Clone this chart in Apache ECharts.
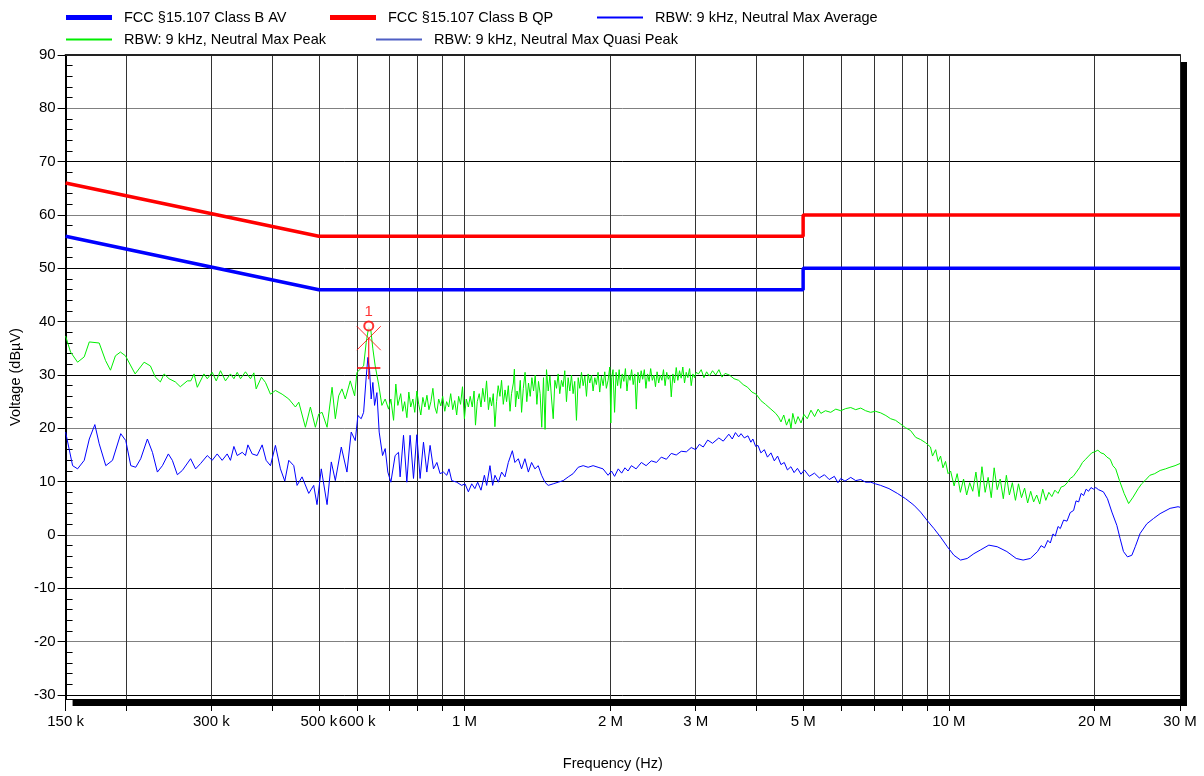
<!DOCTYPE html>
<html><head><meta charset="utf-8">
<script src="https://cdn.jsdelivr.net/npm/echarts@6/dist/echarts.min.js"></script>
<style>html,body{margin:0;padding:0;background:#fff}#c{width:1204px;height:776px}</style>
</head><body><div id="c"></div>
<script>
// ---- data (frequency in kHz, level in dBµV) ----
const limitFreqKHz = [150, 500, 5000, 5000, 30000];
const limitQP = [66, 56, 56, 60, 60];
const limitAV = [56, 46, 46, 50, 50];

const peakTrace = [
[150,37.3],[153.6,34.3],[158.8,32.4],[163.9,33.4],[167.9,36.2],[176,36.0],[181.4,32.7],[185.7,30.9],[190.1,33.6],[194.7,34.3],
[199.4,33.6],[208.8,30.2],[217.9,32.4],[224.5,31.7],[229.9,29.6],[235.4,28.7],[239.6,30.2],[245.3,29.3],[252.8,28.7],[258.8,27.8],
[267.6,28.9],[272,28.9],[276.3,30.2],[280.6,27.7],[289.6,30.2],[294.2,29.3],[301.2,30.5],[307,28.9],[313.3,30.8],[320.8,28.9],
[328.5,30.2],[333.9,29.3],[339.2,30.5],[344.6,29.3],[352.8,30.6],[361.3,29.3],[367.2,30.4],[371.2,27.4],[380.6,29.6],[388,28.6],
[397.3,26.4],[406.8,27.1],[420,26.4],[433.5,25.5],[447.3,24.0],[454.6,24.9],[469.1,20.2],[480.4,24.0],[491.9,20.2],[499.9,22.7],
[507.8,23.0],[520,20.2],[532.5,27.7],[540.8,21.8],[549.5,26.1],[558.2,27.4],[567,25.5],[580.6,28.9],[592.8,26.1],[599.4,30.5],
[608.8,31.1],[618.7,31.7],[626.3,36.1],[633.5,38.9],[640.5,38.3],[646.5,34.9],[653.7,31.7],[664.3,28.3],[674.8,24.3],[685.5,25.5],
[696.6,23.6],[704.2,25.5],[713.4,21.5],[721.1,28.3],[728,24.3],
[738,26.5],[745,23.2],[752,25.0],[760,22.0],[767,26.8],[774,24.0],[782,25.5],[789,23.0],[797,27.0],[804,24.5],[812,22.5],[820,25.8],
[828,24.0],[836,26.2],[844,23.5],[852,25.0],[860,27.5],[868,24.0],[876,22.8],[884,25.5],[893,24.2],[901,26.0],[910,23.2],[918,25.0],
[927,24.0],[936,26.5],[945,23.5],[954,25.2],[963,22.5],[972,26.0],[981,24.5],[990,27.8],[999,21.8],[1008,25.5],[1018,24.0],
[1027,26.0],[1037,24.0],[1046,27.0],[1053,20.6],[1062,25.0],[1072,26.5],[1081,24.0],[1090,27.5],[1100,25.0],[1110,28.9],[1120,23.5],
[1128,25.8],[1137,24.2],[1146,26.5],[1155,20.3],[1164,25.0],[1173,28.0],[1183,26.0],[1192,29.0],[1202,24.5],[1212,27.2],[1221,25.0],
[1231,28.0],[1241,23.2],[1250,26.5],[1261,28.5],[1267,31.1],[1274,24.0],[1283,27.0],[1293,25.5],[1303,29.0],[1311,23.0],
[1322,27.5],[1333,30.5],[1344,25.0],[1355,28.5],[1366,26.0],[1377,29.5],[1388,27.0],[1399,30.0],[1410,24.5],[1421,28.8],[1432,26.5],
[1443,20.2],[1455,29.5],[1466,19.8],[1476,31.0],[1488,27.0],[1500,29.8],[1512,25.5],[1524,21.8],[1536,29.0],[1548,27.5],[1560,30.2],
[1572,26.5],[1585,29.0],[1597,27.8],[1610,30.8],[1623,25.0],[1636,29.5],[1649,27.0],[1662,30.0],[1675,26.5],[1688,28.8],[1702,21.5],
[1716,29.5],[1729,27.5],[1743,30.5],[1757,28.0],[1771,29.8],[1785,26.0],[1799,30.2],[1813,28.5],[1828,30.0],[1842,27.0],[1857,29.5],
[1871,28.2],[1886,30.5],[1901,26.8],[1916,29.8],[1932,28.0],[1947,30.6],[1962,27.5],[1978,29.0],[1994,31.5],[2004,21.0],[2012,29.5],
[2025,31.0],[2040,23.0],[2055,30.5],[2070,28.0],[2085,31.0],[2100,27.5],[2116,30.2],[2132,28.8],[2148,31.2],[2164,27.0],[2180,30.0],
[2196,29.0],[2212,31.0],[2229,28.2],[2246,30.2],[2262,23.6],[2280,30.5],[2297,28.5],[2315,30.8],[2332,29.2],[2350,31.0],[2368,27.5],
[2386,30.2],[2404,28.8],[2422,31.2],[2441,29.0],[2460,30.0],[2478,27.8],[2497,30.6],[2516,28.5],[2535,30.0],[2555,29.0],[2574,31.0],
[2594,28.0],[2614,30.5],[2634,29.2],[2654,30.0],[2671,25.9],[2692,30.2],[2713,28.5],[2735,31.4],[2756,29.0],[2778,30.8],[2800,29.4],
[2822,31.5],[2845,28.5],[2868,30.5],[2890,29.5],[2914,31.2],[2937,28.0],[2960,30.2],[2984,29.5],[3007,30.5],
[3040,30.2],[3080,31.0],[3120,29.5],[3160,30.6],[3200,29.8],[3250,30.8],[3300,30.0],[3350,31.0],[3400,29.6],[3450,30.3],[3520,30.0],
[3600,29.3],[3680,29.0],[3760,28.2],[3840,27.7],[3920,26.8],[4000,26.4],[4090,25.2],[4180,24.5],[4290,23.6],[4390,22.8],[4450,22.1],
[4500,21.2],[4560,22.5],[4620,20.6],[4680,21.8],[4720,20.0],[4760,22.8],[4820,20.8],[4880,22.2],[4950,21.0],[5020,22.6],[5100,21.8],
[5190,23.4],[5280,22.2],[5370,23.6],[5440,22.8],[5560,23.3],[5700,23.0],[5840,23.6],[5980,23.3],[6120,23.7],[6270,23.9],[6420,23.5],
[6575,23.8],[6730,23.3],[6890,23.0],[7050,23.2],[7230,22.9],[7410,22.4],[7580,21.8],[7760,21.5],[7950,20.8],[8140,20.1],[8330,19.6],
[8540,18.3],[8740,17.9],[8950,17.3],[9160,16.5],[9250,14.8],[9390,16.0],[9500,13.8],[9610,14.8],[9720,12.6],[9840,13.8],[9960,11.5],
[10080,12.0],[10250,9.2],[10400,11.5],[10560,8.0],[10720,10.5],[10880,7.5],[11040,9.8],[11200,8.2],[11370,11.8],[11540,7.2],[11700,12.8],
[11880,8.0],[12050,10.8],[12230,7.0],[12400,12.6],[12580,8.5],[12760,10.5],[12950,6.8],[13140,11.2],[13330,7.5],[13520,9.8],[13720,6.5],
[13920,9.6],[14120,7.0],[14330,8.8],[14540,6.0],[14750,8.2],[14960,6.2],[15180,7.5],[15400,5.8],[15620,8.6],[15850,6.5],[16080,8.0],
[16310,7.2],[16550,8.4],[16800,7.8],[17050,9.0],[17300,9.2],[17550,9.8],[17800,10.6],[18060,11.0],[18330,11.8],[18600,12.6],[18870,13.6],
[19150,14.2],[19430,14.8],[19720,15.4],[20000,15.6],[20300,15.9],[20600,15.4],[20900,15.2],[21200,14.6],[21530,14.2],[21800,13.0],
[22100,12.4],[22500,10.2],[23000,7.8],[23500,5.9],[24000,7.1],[24600,8.7],[25000,9.6],[25400,10.2],[26000,11.2],[26600,11.5],
[27300,12.1],[28000,12.4],[28600,12.7],[29300,13.0],[30000,13.4]
];

const avgTrace = [
[150,19.3],[155.1,13.0],[158.8,12.4],[163.9,14.0],[167.9,18.0],[172.4,20.7],[176,17.1],[181.6,13.0],[187.5,14.0],[195,19.0],
[199.7,17.7],[204.5,13.0],[209.4,12.7],[214.4,14.3],[221.3,18.0],[226.7,15.5],[232.1,11.8],[237.7,13.0],[244.5,15.2],[249.2,14.0],
[255.2,11.3],[261.3,12.1],[271.8,14.3],[278.3,12.4],[285,13.4],[294.2,14.9],[301.2,14.0],[308.4,15.2],[315.8,14.0],[323.4,15.2],
[328.5,14.0],[333.9,16.6],[339.2,14.9],[347.4,15.5],[352.8,14.9],[356.9,16.9],[364.2,15.2],[373,14.9],[381.9,16.9],[389.2,14.0],
[397.3,13.0],[406.8,16.8],[416.6,12.4],[425.3,10.1],[433.5,14.0],[443.9,13.0],[450.9,9.3],[461.7,10.9],[476.6,7.8],[488,9.3],
[495.7,5.7],[505.9,12.4],[520,5.7],[530.6,13.7],[540.8,10.2],[556.4,16.5],[571.6,11.8],[583.3,19.3],[594.6,17.7],[602.1,22.4],
[611.6,21.8],[618.7,23.0],[626.3,29.6],[631.4,33.3],[636.5,30.8],[641.3,25.5],[646.5,28.6],[651.8,24.3],[659,26.7],[666.2,19.3],
[677,14.9],[685.5,16.2],[694.2,11.8],[704.2,9.9],[710.8,9.6],[718.7,14.9],[730.4,15.5],[736,10.9],[747.9,18.7],[759.8,9.9],
[771.7,18.7],[784.3,10.6],[796.8,18.8],[809.3,10.6],[822.4,17.4],[835.6,11.8],[848.6,16.8],[862.4,12.4],[876.5,13.6],[889.9,11.5],
[904.3,11.8],[918.6,11.2],[928.5,12.4],[940.6,10.2],[963.2,9.9],[986.3,9.3],[1001.9,9.6],[1018,8.1],[1034.3,9.6],[1050,8.7],
[1064,9.9],[1081,8.4],[1098.6,11.2],[1110.6,9.3],[1128.2,13.0],[1142.6,9.3],[1155.2,11.2],[1174,9.9],[1192.5,11.8],[1211.5,10.9],
[1231,13.6],[1254.8,15.8],[1270,13.6],[1291,14.3],[1311,12.4],[1332,14.3],[1354,11.8],[1375,13.6],[1397,12.4],[1419,13.0],
[1442,11.2],[1465,9.9],[1488,9.3],[1524,9.6],[1560,9.9],[1598,10.2],[1637,10.9],[1675,11.5],[1716,12.7],[1757,13.0],
[1799,12.7],[1842,13.0],[1886,12.7],[1931,12.4],[1978,11.2],
[2010,12.0],[2040,11.0],[2076,12.4],[2110,11.6],[2143,12.6],[2175,12.0],[2210,13.0],[2260,12.4],[2317,13.6],[2370,13.0],
[2429,13.9],[2490,13.6],[2547,14.6],[2610,14.2],[2671,15.3],[2735,15.0],[2801,15.7],[2870,15.6],[2937,16.4],[3000,16.0],
[3053,17.0],[3110,16.5],[3176,17.8],[3250,17.2],[3349,18.2],[3420,17.6],[3512,18.9],[3570,18.0],[3624,19.2],[3680,18.4],
[3722,19.0],[3780,18.2],[3846,18.6],[3900,17.4],[3937,18.0],[3990,16.6],[4034,16.8],[4090,15.4],[4158,16.0],[4220,14.6],
[4291,15.4],[4360,13.9],[4429,14.8],[4500,13.2],[4571,13.6],[4640,12.2],[4718,12.8],[4790,11.7],[4867,12.5],[4950,11.4],
[5030,12.2],[5150,11.0],[5276,11.6],[5400,10.7],[5532,11.3],[5660,10.4],[5800,11.0],[5900,9.8],[5980,10.6],[6100,10.1],
[6270,10.8],[6420,10.2],[6575,10.4],[6730,9.9],[6894,9.9],[7050,9.6],[7229,9.3],[7520,8.7],[7827,7.8],[8140,6.8],
[8465,5.6],[8739,4.3],[9022,2.7],[9315,1.2],[9613,-0.4],[9925,-2.2],[10240,-3.8],[10569,-4.7],[10910,-4.4],[11260,-3.5],
[11620,-2.8],[12090,-1.9],[12580,-2.2],[13170,-3.1],[13770,-4.4],[14230,-4.7],[14729,-4.4],[15240,-3.1],[15500,-2.0],[15750,-2.4],
[16000,-1.0],[16196,-1.5],[16400,0.2],[16580,-0.2],[16800,1.6],[16982,1.2],[17250,2.8],[17530,2.6],[17800,4.2],[18090,4.6],
[18300,6.4],[18530,6.2],[18750,7.8],[18970,7.4],[19200,8.6],[19420,8.2],[19650,8.9],[19880,8.6],[20100,8.9],[20360,8.5],
[20840,8.1],[21250,6.8],[21700,4.3],[22220,1.8],[22570,-0.7],[22930,-3.1],[23370,-4.1],[23860,-3.8],[24250,-2.2],[24820,0.3],
[25620,2.1],[26460,3.1],[27290,4.0],[28620,5.0],[29720,5.3],[30000,5.2]
];

const qpTrace = [];

// marker 1 (frequency kHz, level)
const markerCircle = [[634, 39.2]];
const markerCross = [[634, 36.9]];
const markerQpLine = [[600, 31.3], [670, 31.3]];
const markerStem = [[634, 36.9], [634, 29.2]];

// axes
const xTickKHz = [150,200,300,400,500,600,700,800,900,1000,2000,3000,4000,5000,6000,7000,8000,9000,10000,20000,30000];
const xLabelKHz = [150,300,500,600,1000,2000,3000,5000,10000,20000,30000];
const yTicks = [-30,-20,-10,0,10,20,30,40,50,60,70,80,90];
const yMinor = [-28,-26,-24,-22,-18,-16,-14,-12,-8,-6,-4,-2,2,4,6,8,12,14,16,18,22,24,26,28,32,34,36,38,42,44,46,48,52,54,56,58,62,64,66,68,72,74,76,78,82,84,86,88];

const names = {
  av: 'FCC §15.107 Class B AV',
  qp: 'FCC §15.107 Class B QP',
  avg: 'RBW: 9 kHz, Neutral Max Average',
  pk: 'RBW: 9 kHz, Neutral Max Peak',
  qpk: 'RBW: 9 kHz, Neutral Max Quasi Peak'
};

// ---- build ----
const FONT = '"Liberation Sans", Arial, sans-serif';
const X_MIN = 150000, X_MAX = 30000000, Y_MIN = -30.75, Y_MAX = 90;
const toHz = arr => arr.map(p => [p[0] * 1000, p[1]]);
const limitPairs = vals => limitFreqKHz.map((f, i) => [f * 1000, vals[i]]);
const fmtFreq = v => { const r = Math.round(v); return r >= 1e6 ? Math.round(r / 1e6) + ' M' : Math.round(r / 1e3) + ' k'; };

const legendBase = (name, left, top, h) => ({
  data: [name], left: left, top: top, padding: 0, icon: 'rect', itemWidth: 46, itemHeight: h,
  selectedMode: false, textStyle: { color: '#000', fontSize: 14.5, fontFamily: FONT, padding: [0, 0, 0, 7] }
});

const lineSeries = (name, data, color, width, z) => ({
  name: name, type: 'line', data: data, showSymbol: false, symbol: 'none', silent: true, z: z,
  color: color, itemStyle: { color: color }, lineStyle: { color: color, width: width }
});

const bareAxis = (extra) => Object.assign({
  axisTick: { show: false }, axisLabel: { show: false }, splitLine: { show: false },
  minorTick: { show: false }, minorSplitLine: { show: false }
}, extra);

const option = {
  animation: false,
  backgroundColor: '#fff',
  textStyle: { fontFamily: FONT },
  grid: { left: 63, right: 24, top: 55, bottom: 75, show: true, backgroundColor: '#fff', borderWidth: 0,
          shadowColor: '#000', shadowBlur: 0, shadowOffsetX: 7, shadowOffsetY: 7 },
  legend: [
    legendBase(names.av, 66, 10, 5),
    legendBase(names.qp, 330, 10, 5),
    legendBase(names.avg, 597, 10, 2),
    legendBase(names.pk, 66, 32, 2),
    legendBase(names.qpk, 376, 32, 2)
  ],
  xAxis: [
    {
      type: 'log', logBase: 10, min: X_MIN, max: X_MAX, position: 'bottom',
      name: 'Frequency (Hz)', nameLocation: 'middle', nameGap: 57,
      nameTextStyle: { color: '#000', fontSize: 14.5, padding: [0, 20, 0, 0] },
      axisLine: { show: true, onZero: false, lineStyle: { color: '#000', width: 1 } },
      axisTick: { show: true, customValues: xTickKHz.map(v => v * 1000), length: 12, lineStyle: { color: '#000' } },
      axisLabel: { show: true, customValues: xLabelKHz.map(v => v * 1000), formatter: fmtFreq, color: '#000', fontSize: 15, margin: 15 },
      splitLine: { show: true, lineStyle: { color: '#333', width: 1 } },
      minorTick: { show: false }, minorSplitLine: { show: false }
    },
    bareAxis({ type: 'log', logBase: 10, min: X_MIN, max: X_MAX, position: 'top',
      axisLine: { show: true, onZero: false, lineStyle: { color: '#222', width: 2 } } })
  ],
  yAxis: [
    {
      type: 'value', min: Y_MIN, max: Y_MAX, position: 'left',
      name: 'Voltage (dBµV)', nameLocation: 'middle', nameGap: 38, nameRotate: 90,
      nameTextStyle: { color: '#000', fontSize: 14.5 },
      axisLine: { show: true, onZero: false, lineStyle: { color: '#000', width: 2 } },
      axisTick: { show: true, customValues: yTicks, length: 8, lineStyle: { color: '#000' } },
      axisLabel: { show: true, customValues: yTicks, color: '#000', fontSize: 15, margin: 10 },
      splitLine: { show: true, lineStyle: { color: ['#000', '#808080'], width: 1 } }
    },
    {
      type: 'value', min: Y_MIN, max: Y_MAX, position: 'left',
      axisLine: { show: false },
      axisTick: { show: true, inside: true, customValues: yMinor, length: 7, lineStyle: { color: '#000' } },
      axisLabel: { show: false }, splitLine: { show: false }
    },
    bareAxis({ type: 'value', min: Y_MIN, max: Y_MAX, position: 'right',
      axisLine: { show: true, onZero: false, lineStyle: { color: '#222', width: 1 } } })
  ],
  series: [
    lineSeries(names.pk, toHz(peakTrace), '#00ee00', 1, 3),
    lineSeries(names.avg, toHz(avgTrace), '#0000ff', 1, 4),
    lineSeries(names.qpk, toHz(qpTrace), '#4f5fc4', 1, 4),
    lineSeries(names.av, limitPairs(limitAV), '#0000ff', 3.5, 5),
    lineSeries(names.qp, limitPairs(limitQP), '#ff0000', 3.5, 5),
    { name: 'm-circle', type: 'scatter', data: toHz(markerCircle), symbol: 'emptyCircle', symbolSize: 9, z: 6, silent: true,
      itemStyle: { color: '#ff0000', borderColor: '#ff0000', borderWidth: 1 },
      label: { show: true, formatter: '1', position: 'top', distance: 1, color: '#ff0000', fontSize: 15 } },
    { name: 'm-cross', type: 'scatter', data: toHz(markerCross), symbol: 'path://M0 0L10 10M10 0L0 10', symbolSize: 24, z: 6, silent: true,
      itemStyle: { color: 'rgba(0,0,0,0)', borderColor: '#ff0000', borderWidth: 1 } },
    { name: 'm-qp', type: 'line', data: toHz(markerQpLine), showSymbol: false, symbol: 'none', silent: true, z: 6,
      lineStyle: { color: '#ff0000', width: 1.5 } },
    { name: 'm-stem', type: 'line', data: toHz(markerStem), showSymbol: false, symbol: 'none', silent: true, z: 6,
      lineStyle: { color: '#ff0000', width: 1 } }
  ]
};

const chart = echarts.init(document.getElementById('c'), null, { renderer: 'canvas' });
chart.setOption(option);
</script></body></html>
